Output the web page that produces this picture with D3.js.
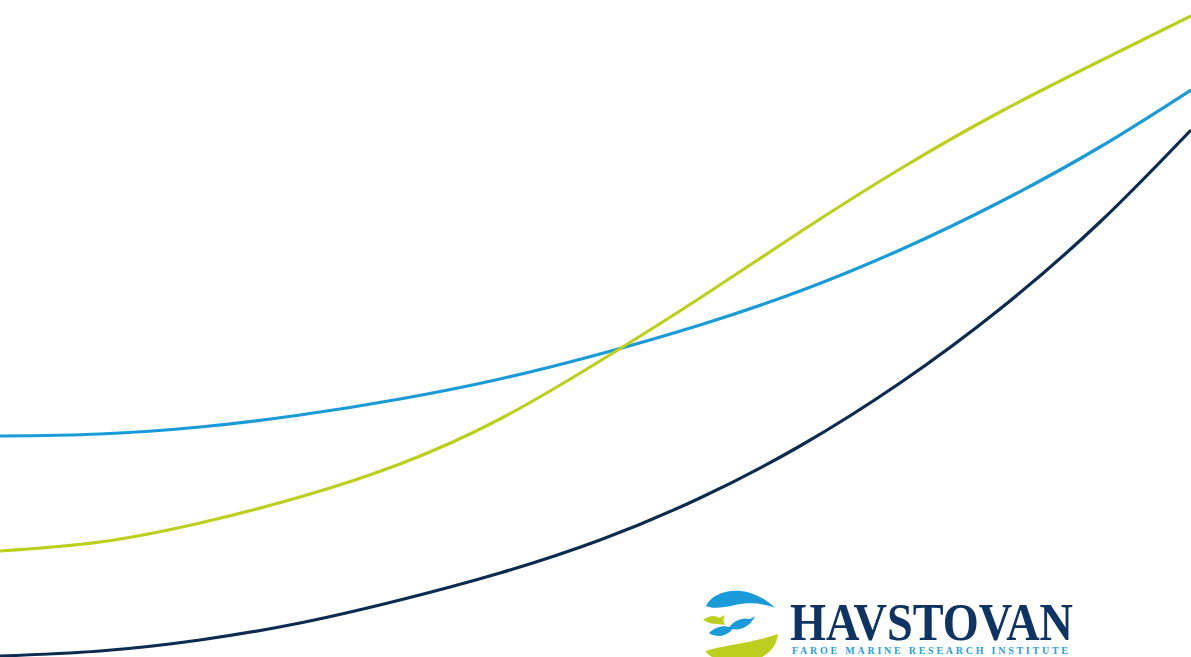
<!DOCTYPE html>
<html>
<head>
<meta charset="utf-8">
<script src="https://cdn.jsdelivr.net/npm/d3@7"></script>
<style>
  html, body { margin: 0; padding: 0; background: #fff; overflow: hidden; }
  svg { display: block; }
</style>
</head>
<body>
<div id="chart"></div>
<script>
// values: x steps and height above the bottom edge
var steps = [0, 100, 200, 300, 400, 500, 600, 700, 800, 900, 1000, 1100, 1191];
var lightBlue = [221, 223, 230, 242, 258, 278, 303, 332, 366, 407, 455, 510, 567];
var limeGreen = [106, 115, 134, 160, 193, 238, 296, 359, 425, 488, 545, 596, 641];
var darkNavy  = [1, 6, 17, 34, 57, 84, 117, 159, 211, 274, 348, 435, 527];

var seriesNames = ["navy", "blue", "green"];
var seriesColors = { navy: "#0d2b4e", blue: "#1a9bd7", green: "#bccf1e" };

const WIDTH = 1191;
const HEIGHT = 657;

var svg = d3.select("#chart").append("svg")
    .attr("width", WIDTH)
    .attr("height", HEIGHT);

var x = d3.scaleLinear().domain([0, 1191]).range([0, WIDTH]);
var y = d3.scaleLinear().domain([0, 657]).range([HEIGHT, 0]);

var line = d3.line()
    .x(function(d) { return x(d[0]); })
    .y(function(d) { return y(d[1]); })
    .curve(d3.curveNatural);

var seriesData = {
    navy: d3.zip(steps, darkNavy),
    blue: d3.zip(steps, lightBlue),
    green: d3.zip(steps, limeGreen)
};

svg.selectAll("path.curve")
    .data(seriesNames)
    .enter().append("path")
    .attr("class", "curve")
    .attr("fill", "none")
    .attr("stroke", function(d) { return seriesColors[d]; })
    .attr("stroke-width", 3.2)
    .attr("d", function(d) { return line(seriesData[d]); });

// logo in the lower right
var logo = svg.append("g").attr("transform", "translate(703,588)");

logo.append("path")
    .attr("fill", "#1a9bd7")
    .attr("d", "M3,18 C10,2 44,-7 72,20 C60,15 46,14 32,17 C20,20 9,21 3,18 Z");
logo.append("path")
    .attr("fill", "#bccf1e")
    .attr("d", "M3,63 C20,57 46,56 75,46 C74,57 67,65 59,69 L9,69 C6,67 3,65 3,63 Z");
// small fish
logo.append("path")
    .attr("fill", "#bccf1e")
    .attr("d", "M0,32 C6,27 13,27 16,30 L22,27 C20,30 20,33 22,37 C15,35 10,38 0,32 Z");
logo.append("path")
    .attr("fill", "#1a9bd7")
    .attr("d", "M26,40 C30,33 39,29 47,31 C49,30 51,29 52,28 C50,33 45,39 37,41 C32,42 29,41 26,40 Z");
logo.append("path")
    .attr("fill", "#1a9bd7")
    .attr("d", "M6,45 C11,40 20,37 26,39 C28,38 30,37 32,36 C30,42 25,47 17,48 C12,48 8,47 6,45 Z");

svg.append("text")
    .attr("x", 790)
    .attr("y", 640)
    .attr("font-family", "Liberation Serif, Times New Roman, serif")
    .attr("font-weight", "bold")
    .attr("font-size", 53)
    .attr("fill", "#0f3462")
    .attr("textLength", 283)
    .attr("lengthAdjust", "spacingAndGlyphs")
    .text("HAVSTOVAN");

svg.append("text")
    .attr("x", 792)
    .attr("y", 654)
    .attr("font-family", "Liberation Serif, Times New Roman, serif")
    .attr("font-weight", "bold")
    .attr("font-size", 10)
    .attr("fill", "#2aa0d8")
    .attr("textLength", 276)
    .attr("lengthAdjust", "spacing")
    .text("FAROE MARINE RESEARCH INSTITUTE");
</script>
</body>
</html>
